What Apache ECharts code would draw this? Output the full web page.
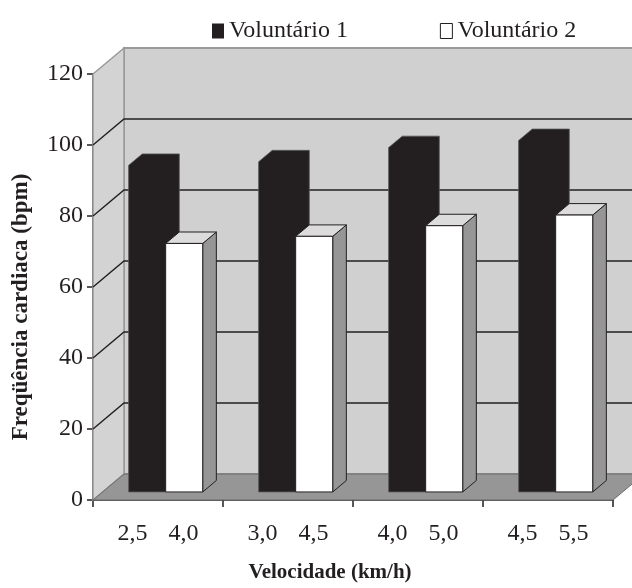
<!DOCTYPE html>
<html>
<head>
<meta charset="utf-8">
<script src="https://cdn.jsdelivr.net/npm/echarts@6/dist/echarts.min.js"></script>
<style>
html,body{margin:0;padding:0;background:#fff;}
#chart{width:632px;height:588px;}
</style>
</head>
<body>
<div id="chart"></div>
<script>
// ---- data ----
const speedV1 = ['2,5', '3,0', '4,0', '4,5'];
const speedV2 = ['4,0', '4,5', '5,0', '5,5'];
const seriesNames = ['Voluntário 1', 'Voluntário 2'];
const vol1 = [92, 93, 97, 99];
const vol2 = [70, 72, 75, 78];
const yTicks = [0, 20, 40, 60, 80, 100, 120];
const gridTicks = [20, 40, 60, 80, 100];
const yTitle = 'Freqüência cardiaca (bpm)';
const xTitle = 'Velocidade (km/h)';

const categories = speedV1.map((s, i) => s + '|' + speedV2[i]);

// ---- style constants ----
const DX = 31, DY = -26;          // full depth projection
const FRONT = 0.31, BACK = 0.75;  // bar depth fractions
const INK = '#231f20';
const SERIF = "'Liberation Serif', 'DejaVu Serif', serif";

function renderWalls(params, api) {
  const cs = params.coordSys;
  const x0 = cs.x, x1 = cs.x + cs.width, yT = cs.y, yB = cs.y + cs.height;
  return {
    type: 'group',
    children: [
      { type: 'polygon', shape: { points: [[x0 + DX, yT + DY], [x1 + DX, yT + DY], [x1 + DX, yB + DY], [x0 + DX, yB + DY]] },
        style: { fill: '#d0d0d0', stroke: '#9a9a9a', lineWidth: 2 } },
      { type: 'polygon', shape: { points: [[x0, yT], [x0 + DX, yT + DY], [x0 + DX, yB + DY], [x0, yB]] },
        style: { fill: '#d3d3d3', stroke: '#9a9a9a', lineWidth: 1.5 } },
      { type: 'polygon', shape: { points: [[x0, yB], [x1, yB], [x1 + DX, yB + DY], [x0 + DX, yB + DY]] },
        style: { fill: '#969696', stroke: '#6a6a6a', lineWidth: 1 } }
    ]
  };
}

function renderGridLine(params, api) {
  const cs = params.coordSys;
  const x0 = cs.x, x1 = cs.x + cs.width;
  const y = api.coord([0, api.value(1)])[1];
  return {
    type: 'polyline',
    shape: { points: [[x0, y], [x0 + DX, y + DY], [x1 + DX, y + DY]] },
    style: { stroke: INK, lineWidth: 1.4, fill: null }
  };
}

function makeBarRenderer(leftFrac, rightFrac, colors) {
  return function (params, api) {
    const i = api.value(0), v = api.value(1);
    const top = api.coord([i, v]);
    const base = api.coord([i, 0]);
    const bw = api.size([1, 0])[0];
    const c = base[0];
    const xl = c + leftFrac * bw, xr = c + rightFrac * bw;
    const fx = FRONT * DX, fy = FRONT * DY, bx = BACK * DX, by = BACK * DY;
    const yt = top[1], yb = base[1];
    if (colors.solid) {
      return {
        type: 'polygon',
        shape: { points: [[xl + fx, yb + fy], [xl + fx, yt + fy], [xl + bx, yt + by], [xr + bx, yt + by],
                          [xr + bx, yb + by], [xr + fx, yb + fy]] },
        style: { fill: colors.solid, stroke: '#5a5a5a', lineWidth: 0.8 }
      };
    }
    const st = { stroke: colors.stroke, lineWidth: 1 };
    return {
      type: 'group',
      children: [
        { type: 'polygon', shape: { points: [[xr + fx, yt + fy], [xr + bx, yt + by], [xr + bx, yb + by], [xr + fx, yb + fy]] },
          style: Object.assign({ fill: colors.side }, st) },
        { type: 'polygon', shape: { points: [[xl + fx, yt + fy], [xl + bx, yt + by], [xr + bx, yt + by], [xr + fx, yt + fy]] },
          style: Object.assign({ fill: colors.top }, st) },
        { type: 'polygon', shape: { points: [[xl + fx, yt + fy], [xr + fx, yt + fy], [xr + fx, yb + fy], [xl + fx, yb + fy]] },
          style: Object.assign({ fill: colors.front }, st) }
      ]
    };
  };
}

const chart = echarts.init(document.getElementById('chart'));
chart.setOption({
  animation: false,
  backgroundColor: '#fff',
  legend: {
    left: 207, top: 14,
    icon: 'rect', itemWidth: 12, itemHeight: 15, itemGap: 92,
    textStyle: { fontFamily: SERIF, fontSize: 24, color: INK },
    data: [
      { name: seriesNames[0], itemStyle: { color: INK } },
      { name: seriesNames[1], itemStyle: { color: '#fff', borderColor: INK, borderWidth: 1 } }
    ]
  },
  grid: { left: 93, right: 19, top: 74, bottom: 88 },
  xAxis: {
    type: 'category',
    data: categories,
    axisLine: { lineStyle: { color: INK, width: 1.5 } },
    axisTick: { show: true, length: 7, interval: 0, lineStyle: { color: INK, width: 1.5 } },
    axisLabel: {
      margin: 22, interval: 0,
      formatter: function (val) { const p = val.split('|'); return '{a|' + p[0] + '}{b|' + p[1] + '}'; },
      rich: {
        a: { fontFamily: SERIF, fontSize: 24, color: INK },
        b: { fontFamily: SERIF, fontSize: 24, color: INK, padding: [0, 0, 0, 21] }
      }
    },
    splitLine: { show: false }
  },
  yAxis: {
    type: 'value',
    min: yTicks[0], max: yTicks[yTicks.length - 1], interval: 20,
    axisLine: { show: true, lineStyle: { color: INK, width: 1.5 } },
    axisTick: { show: true, length: 6, lineStyle: { color: INK, width: 1.5 } },
    axisLabel: { margin: 10, fontFamily: SERIF, fontSize: 24, color: INK },
    splitLine: { show: false }
  },
  graphic: [
    { type: 'text', x: 21, y: 307, rotation: Math.PI / 2,
      style: { text: yTitle, fontFamily: SERIF, fontWeight: 'bold', fontSize: 23, fill: INK, align: 'center', verticalAlign: 'middle' } },
    { type: 'text', x: 330, y: 573,
      style: { text: xTitle, fontFamily: SERIF, fontWeight: 'bold', fontSize: 21, fill: INK, align: 'center', verticalAlign: 'middle' } }
  ],
  series: [
    { type: 'custom', name: 'walls', z: 1, silent: true, renderItem: renderWalls, data: [[0, 0]] },
    { type: 'custom', name: 'grid', z: 2, silent: true, renderItem: renderGridLine, data: gridTicks.map(t => [0, t]) },
    { type: 'custom', name: seriesNames[0], z: 3, itemStyle: { color: INK },
      renderItem: makeBarRenderer(-0.30, -0.015, { solid: INK }),
      data: vol1.map((v, i) => [i, v]) },
    { type: 'custom', name: seriesNames[1], z: 4, itemStyle: { color: '#fff', borderColor: INK },
      renderItem: makeBarRenderer(-0.015, 0.27, { front: '#ffffff', top: '#dcdcdc', side: '#969696', stroke: INK }),
      data: vol2.map((v, i) => [i, v]) }
  ]
});
</script>
</body>
</html>
